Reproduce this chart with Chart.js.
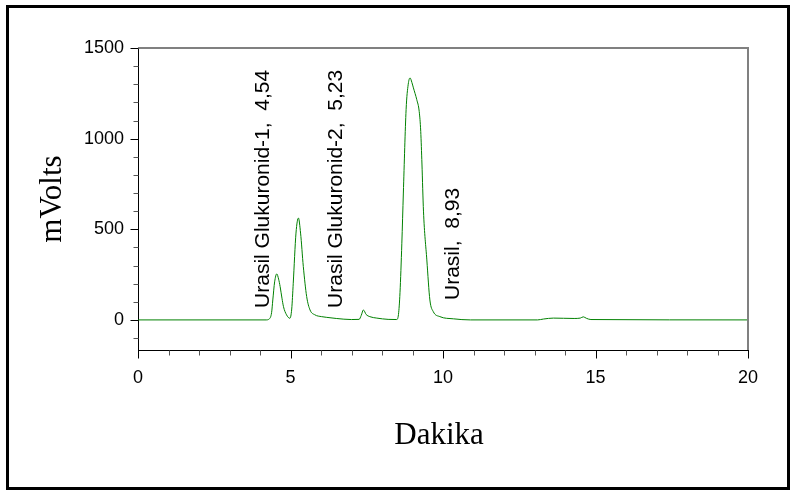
<!DOCTYPE html>
<html>
<head>
<meta charset="utf-8">
<script src="https://cdn.jsdelivr.net/npm/chart.js@4/dist/chart.umd.min.js"></script>
<style>
  html, body { margin: 0; padding: 0; background: #fff; }
  canvas { display: block; }
</style>
</head>
<body>
<canvas id="c" width="792" height="492"></canvas>
<script>
// Retention time (minutes) and detector signal (mV)
const times = [0, 4.2, 4.3, 4.38, 4.42, 4.48, 4.55, 4.61, 4.66, 4.72,
  4.77, 4.87, 4.98, 5.04, 5.09, 5.18, 5.26, 5.33, 5.42, 5.53,
  5.64, 5.8, 6.02, 6.19, 6.5, 7.0, 7.25, 7.32, 7.39, 7.48,
  7.6, 7.83, 8.2, 8.48, 8.54, 8.59, 8.65, 8.70, 8.79, 8.86,
  8.92, 8.98, 9.03, 9.14, 9.22, 9.27, 9.31, 9.36, 9.47, 9.57,
  9.68, 9.90, 10.34, 10.9, 13.1, 13.3, 13.62, 13.95, 14.3, 14.5,
  14.6, 14.7, 14.85, 20];
const mVolts = [0, 0, 5, 40, 110, 210, 254, 225, 184, 120,
  73, 28, 9, 60, 202, 479, 562, 479, 295, 129,
  55, 28, 18, 14, 8, 2, 3, 25, 55, 30,
  18, 10, 3, 2, 30, 150, 420, 700, 1160, 1300,
  1335, 1310, 1280, 1215, 1150, 1040, 860, 600, 331, 110,
  46, 18, 6, 0, 0, 5, 10, 9, 8, 10,
  17, 9, 2, 0];

// Peak annotations
const peakLabels = ["Urasil Glukuronid-1,  4,54", "Urasil Glukuronid-2,  5,23", "Urasil,  8,93"];
const peakLabelX = [4.28, 6.69, 10.53];
const peakLabelY = [66, 66, 110];

// Axis ticks
const xMajorTicks = [0, 5, 10, 15, 20];
const xMinorTicks = [1, 2, 3, 4, 6, 7, 8, 9, 11, 12, 13, 14, 16, 17, 18, 19];
const yMajorTicks = [0, 500, 1000, 1500];
const yMinorTicks = [-100, 100, 200, 300, 400, 600, 700, 800, 900, 1100, 1200, 1300, 1400];

const xTitle = "Dakika";
const yTitle = "mVolts";

const points = times.map((t, i) => ({ x: t, y: mVolts[i] }));

const decor = {
  id: 'decor',
  afterDraw(chart) {
    const ctx = chart.ctx;
    const xs = chart.scales.x, ys = chart.scales.y;
    const a = chart.chartArea;
    ctx.save();
    // top & right gray frame lines
    ctx.strokeStyle = '#808080';
    ctx.lineWidth = 2;
    ctx.beginPath();
    ctx.moveTo(a.left, a.top);
    ctx.lineTo(a.right, a.top);
    ctx.lineTo(a.right, a.bottom);
    ctx.stroke();
    // ticks
    ctx.lineWidth = 1;
    const ax = Math.round(a.left) + 0.5;
    const ay = Math.round(a.bottom) + 0.5;
    ctx.strokeStyle = '#000';
    yMajorTicks.forEach(v => {
      const p = Math.round(ys.getPixelForValue(v)) + 0.5;
      ctx.beginPath(); ctx.moveTo(ax - 8, p); ctx.lineTo(ax, p); ctx.stroke();
    });
    xMajorTicks.forEach(v => {
      const p = Math.round(xs.getPixelForValue(v)) + 0.5;
      ctx.beginPath(); ctx.moveTo(p, ay); ctx.lineTo(p, ay + 8); ctx.stroke();
    });
    ctx.strokeStyle = '#555';
    yMinorTicks.forEach(v => {
      const p = Math.round(ys.getPixelForValue(v)) + 0.5;
      ctx.beginPath(); ctx.moveTo(ax - 5, p); ctx.lineTo(ax, p); ctx.stroke();
    });
    xMinorTicks.forEach(v => {
      const p = Math.round(xs.getPixelForValue(v)) + 0.5;
      ctx.beginPath(); ctx.moveTo(p, ay); ctx.lineTo(p, ay + 5); ctx.stroke();
    });
    // peak labels
    ctx.fillStyle = '#000';
    ctx.font = '21px "Liberation Sans", Arial, sans-serif';
    ctx.textAlign = 'left';
    ctx.textBaseline = 'alphabetic';
    peakLabels.forEach((txt, i) => {
      const px = xs.getPixelForValue(peakLabelX[i]);
      const py = ys.getPixelForValue(peakLabelY[i]);
      ctx.save();
      ctx.translate(px, py);
      ctx.rotate(-Math.PI / 2);
      ctx.fillText(txt, 0, 0);
      ctx.restore();
    });
    // axis titles
    ctx.font = '31px "Liberation Serif", "Times New Roman", serif';
    ctx.textAlign = 'center';
    ctx.textBaseline = 'middle';
    ctx.fillText(xTitle, (a.left + a.right) / 2 - 4, 436);
    ctx.save();
    ctx.translate(53, (a.top + a.bottom) / 2);
    ctx.rotate(-Math.PI / 2);
    ctx.fillText(yTitle, 0, 0);
    ctx.restore();
    // outer frame
    ctx.strokeStyle = '#000';
    ctx.lineWidth = 3;
    ctx.strokeRect(7.5, 6.5, 781, 482);
    ctx.restore();
  }
};

new Chart(document.getElementById('c'), {
  type: 'line',
  data: {
    datasets: [{
      data: points,
      borderColor: '#008000',
      borderWidth: 1,
      pointRadius: 0,
      fill: false,
      cubicInterpolationMode: 'monotone'
    }]
  },
  options: {
    responsive: false,
    animation: false,
    layout: { padding: { top: 48, right: 44, left: 0, bottom: 0 } },
    plugins: { legend: { display: false }, tooltip: { enabled: false } },
    scales: {
      x: {
        type: 'linear',
        min: 0, max: 20,
        afterFit: s => { s.height = 142; },
        grid: { display: false, drawTicks: false },
        border: { display: true, color: '#000', width: 1 },
        ticks: {
          stepSize: 5,
          padding: 17,
          color: '#000',
          font: { family: '"Liberation Sans", Arial, sans-serif', size: 18 },
          maxRotation: 0,
          callback: v => String(v)
        }
      },
      y: {
        type: 'linear',
        min: -166, max: 1500,
        afterFit: s => { s.width = 138; },
        grid: { display: false, drawTicks: false },
        border: { display: true, color: '#000', width: 1 },
        afterBuildTicks: s => { s.ticks = yMajorTicks.map(v => ({ value: v })); },
        ticks: {
          padding: 14,
          color: '#000',
          font: { family: '"Liberation Sans", Arial, sans-serif', size: 18 },
          callback: v => String(v)
        }
      }
    }
  },
  plugins: [decor]
});
</script>
</body>
</html>
